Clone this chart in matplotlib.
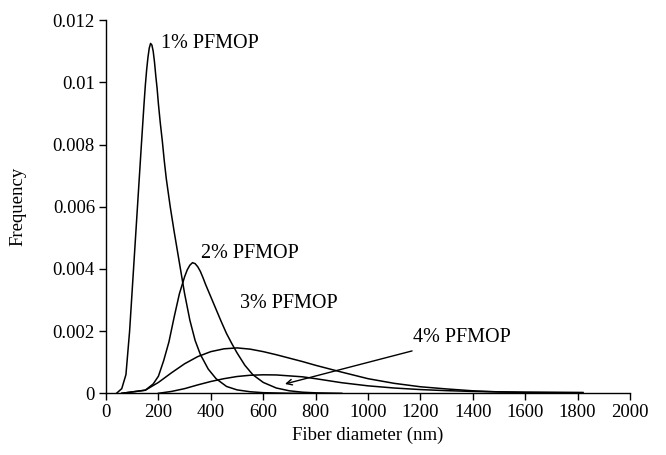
import matplotlib
matplotlib.use("Agg")
import matplotlib.pyplot as plt

plt.rcParams['font.family'] = ['Liberation Serif', 'DejaVu Serif']

# Fiber diameter distributions (nm, frequency)
d1 = [40, 60, 76, 90, 105, 120, 135, 145, 150, 155, 160, 165, 170, 175, 180, 185, 190,
      195, 200, 207, 215, 222, 230, 245, 260, 270, 280, 290, 300, 320, 340, 360, 390,
      420, 460, 500, 550, 600, 700, 800]
f1 = [0, 0.00015, 0.0006, 0.002, 0.004, 0.006, 0.008, 0.0093, 0.0099, 0.0104, 0.0108,
      0.0111, 0.01125, 0.0112, 0.011, 0.01065, 0.0102, 0.0098, 0.0093, 0.0087, 0.0081,
      0.0075, 0.0069, 0.006, 0.0052, 0.0047, 0.0042, 0.0037, 0.0032, 0.00235, 0.0017,
      0.00125, 0.00078, 0.00047, 0.00022, 0.00011, 0.00005, 0.00002, 0, 0]

d2 = [60, 150, 180, 200, 220, 240, 260, 280, 300, 310, 320, 330, 340, 350, 360, 370,
      380, 400, 420, 440, 460, 480, 500, 530, 560, 600, 650, 700, 750, 800, 900]
f2 = [0, 0.0001, 0.0003, 0.00055, 0.00105, 0.00165, 0.00245, 0.0032, 0.00375, 0.00397,
      0.00412, 0.0042, 0.00417, 0.00407, 0.00392, 0.00372, 0.0035, 0.0031, 0.0027,
      0.0023, 0.00192, 0.0016, 0.0013, 0.0009, 0.0006, 0.00035, 0.00017, 0.00008,
      0.000035, 0.000015, 0]

d3 = [60, 150, 200, 250, 300, 350, 400, 450, 500, 550, 600, 650, 700, 750, 800, 900,
      1000, 1100, 1200, 1300, 1400, 1500, 1600, 1700, 1820]
f3 = [0, 0.0001, 0.00035, 0.00066, 0.00095, 0.00118, 0.00134, 0.00143, 0.00146, 0.00142,
      0.00134, 0.00124, 0.00113, 0.00102, 0.0009, 0.00068, 0.00047, 0.00032, 0.00021,
      0.00014, 0.00008, 0.000045, 0.00003, 0.000025, 0.00002]

d4 = [200, 250, 300, 350, 400, 450, 500, 550, 600, 650, 700, 750, 800, 900, 1000, 1100,
      1200, 1300, 1400, 1500, 1600, 1700, 1820]
f4 = [0, 0.00006, 0.00015, 0.00027, 0.00038, 0.00047, 0.00054, 0.00058, 0.000595,
      0.00059, 0.00056, 0.00053, 0.00047, 0.00034, 0.00024, 0.00017, 0.00012, 0.000085,
      0.00006, 0.000045, 0.000035, 0.00003, 0.000025]

x_ticks = [0, 200, 400, 600, 800, 1000, 1200, 1400, 1600, 1800, 2000]
y_ticks = [0, 0.002, 0.004, 0.006, 0.008, 0.01, 0.012]
y_labels = ['0', '0.002', '0.004', '0.006', '0.008', '0.01', '0.012']

fig = plt.figure(figsize=(6.66, 4.55), dpi=100)
ax = fig.add_axes([0.1592, 0.1356, 0.7868, 0.8202])

for d, f in [(d1, f1), (d2, f2), (d3, f3), (d4, f4)]:
    ax.plot(d, f, color='black', lw=1.1, solid_joinstyle='round')

ax.set_xlim(0, 2000)
ax.set_ylim(0, 0.012)
ax.set_xticks(x_ticks)
ax.set_xticklabels([str(t) for t in x_ticks])
ax.set_yticks(y_ticks)
ax.set_yticklabels(y_labels)

for s in ['top', 'right']:
    ax.spines[s].set_visible(False)
for s in ['left', 'bottom']:
    ax.spines[s].set_linewidth(1.0)
ax.tick_params(direction='out', length=5, width=1.0, labelsize=13.5, pad=3)

ax.set_xlabel('Fiber diameter (nm)', fontsize=13.5, labelpad=4)
ax.set_ylabel('Frequency', fontsize=13.5, labelpad=19)

ax.text(210, 0.01126, '1% PFMOP', fontsize=14.5, va='center', ha='left')
ax.text(363, 0.00451, '2% PFMOP', fontsize=14.5, va='center', ha='left')
ax.text(511, 0.0029, '3% PFMOP', fontsize=14.5, va='center', ha='left')
ax.annotate('4% PFMOP', xy=(683, 0.0003), xytext=(1172, 0.00178),
            fontsize=14.5, va='center', ha='left',
            arrowprops=dict(arrowstyle='->', color='black', lw=1.0,
                            shrinkA=2, shrinkB=0, mutation_scale=10))

fig.savefig('out.png', dpi=100)
